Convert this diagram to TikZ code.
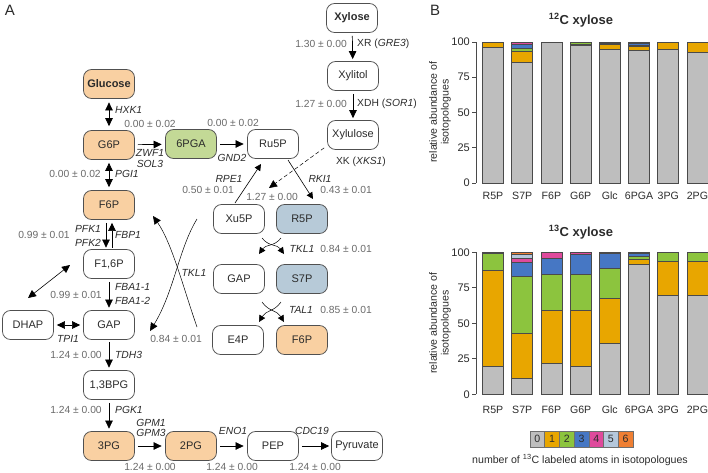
\documentclass[tikz,border=0pt]{standalone}
\usepackage{fontspec}
\setmainfont{Liberation Sans}
\usetikzlibrary{arrows.meta,calc}
\definecolor{orfill}{HTML}{F9D0A2}
\definecolor{grfill}{HTML}{C3D996}
\definecolor{blfill}{HTML}{B7CAD8}
\definecolor{boxdraw}{HTML}{505050}
\definecolor{numc}{HTML}{6A6A6A}
\definecolor{txt}{HTML}{2B2B2B}
\definecolor{c0}{HTML}{BEBEBE}
\definecolor{c1}{HTML}{E8A600}
\definecolor{c2}{HTML}{8CC43E}
\definecolor{c3}{HTML}{4677C4}
\definecolor{c4}{HTML}{DF4A9C}
\definecolor{c5}{HTML}{B5C8DC}
\definecolor{c6}{HTML}{EF7F33}
\definecolor{barline}{HTML}{4A4A4A}
\newcommand\stackbar[4]{%
  \foreach \t [count=\k from 0, remember=\t as \prev (initially 0)] in {#4} {
    \filldraw[fill=c\k, draw=barline, line width=0.6pt] (#1-10.5, #2-#3*\prev) rectangle (#1+10.5, #2-#3*\t);
  }}
\begin{document}
\begin{tikzpicture}[x=1pt,y=-1pt,
  box/.style={draw=boxdraw, line width=0.75pt, rounded corners=8pt, minimum width=51pt, minimum height=29pt, inner sep=0pt, text=txt, font=\fontsize{11}{12}\selectfont},
  boldbox/.style={box, font=\fontsize{11}{12}\selectfont\bfseries},
  num/.style={inner sep=0pt, text=numc, font=\fontsize{10.3}{12}\selectfont},
  gene/.style={inner sep=0pt, text=txt, font=\fontsize{10.3}{12}\selectfont\itshape},
  arr/.style={-{Triangle[length=8pt,width=7.5pt]}, line width=0.7pt},
  darr/.style={{Triangle[length=8pt,width=7.5pt]}-{Triangle[length=8pt,width=7.5pt]}, line width=0.7pt},
  smallarr/.style={-{Triangle[length=6.5pt,width=6.5pt]}, line width=0.5pt},
  curvearr/.style={-{Triangle[length=8pt,width=7.5pt]}, line width=0.5pt},
  panel/.style={inner sep=0pt, text=txt, font=\fontsize{15}{16}\selectfont},
  tick/.style={inner sep=0pt, text=txt, font=\fontsize{11}{12}\selectfont},
  xlab/.style={inner sep=0pt, text=txt, font=\fontsize{10.6}{12}\selectfont},
  ctitle/.style={inner sep=0pt, text=txt, font=\fontsize{13}{14}\selectfont\bfseries},
  axis/.style={draw=barline, line width=1pt},
  legbox/.style={draw=barline!80, line width=0.6pt, minimum width=14.7pt, minimum height=16pt, inner sep=0pt, text=txt, font=\fontsize{10.6}{12}\selectfont},
]
\useasboundingbox (0,0) rectangle (708,472);

% panel letters
\node[panel] (pA) at (10,10) {A};
\node[panel] (pB) at (435,10) {B};

% ---------- metabolite boxes ----------
\node[boldbox, fill=orfill] (glc) at (109,84) {Glucose};
\node[box, fill=orfill] (g6p) at (109,145) {G6P};
\node[box, fill=grfill] (pga) at (191,144) {6PGA};
\node[box] (ru5p) at (273,144) {Ru5P};
\node[boldbox] (xyl) at (352,18) {Xylose};
\node[box] (xol) at (353,76) {Xylitol};
\node[box] (xul) at (353,135) {Xylulose};
\node[box] (xu5p) at (239,219) {Xu5P};
\node[box, fill=blfill] (r5p) at (302,219) {R5P};
\node[box] (gapr) at (239,279) {GAP};
\node[box, fill=blfill] (s7p) at (302,279) {S7P};
\node[box] (e4p) at (238,340) {E4P};
\node[box, fill=orfill] (f6pr) at (302,340) {F6P};
\node[box, fill=orfill] (f6p) at (109,205) {F6P};
\node[box] (f16p) at (109,264) {F1,6P};
\node[box] (dhap) at (28,325) {DHAP};
\node[box] (gap) at (109,325) {GAP};
\node[box] (bpg) at (109,385) {1,3BPG};
\node[box, fill=orfill] (pg3) at (109,446) {3PG};
\node[box, fill=orfill] (pg2) at (191,446) {2PG};
\node[box] (pep) at (273,446) {PEP};
\node[box] (pyr) at (357,446) {Pyruvate};

% ---------- reactions ----------
\draw[darr, shorten <=3.5pt, shorten >=4pt] (glc) -- (g6p);
\node[gene, anchor=west] (hxk) at (115,110) {HXK1};

\draw[arr, shorten <=3pt, shorten >=3.5pt] (g6p) -- (pga);
\node[num] (n1) at (150,124) {0.00 ± 0.02};
\node[gene] (zwf) at (150,153) {ZWF1};
\node[gene] (sol) at (150,163.5) {SOL3};

\draw[arr, shorten <=3pt, shorten >=3.5pt] (pga) -- (ru5p);
\node[num] (n2) at (233,123) {0.00 ± 0.02};
\node[gene] (gnd) at (232,158) {GND2};

\draw[arr, shorten <=3pt, shorten >=2pt] (xyl) -- (xol);
\node[num] (n3) at (321,44) {1.30 ± 0.00};
\node[inner sep=0pt, text=txt, font=\fontsize{10.3}{12}\selectfont, anchor=west] (xr) at (357,44) {XR (\textit{GRE3})};

\draw[arr, shorten <=3pt, shorten >=2pt] (xol) -- (xul);
\node[num] (n4) at (321,104) {1.27 ± 0.00};
\node[inner sep=0pt, text=txt, font=\fontsize{10.3}{12}\selectfont, anchor=west] (xdh) at (357,104) {XDH (\textit{SOR1})};

\coordinate (xkend) at (269,188);
\draw[arr, dashed, dash pattern=on 4pt off 2.5pt, line width=0.5pt] ($(xul.south west)+(-3,-2)$) -- (xkend);
\node[inner sep=0pt, text=txt, font=\fontsize{10.3}{12}\selectfont] (xk) at (361,162) {XK (\textit{XKS1})};
\node[num] (n5) at (272,197) {1.27 ± 0.00};

\coordinate (rkis) at (288,160);
\coordinate (rkie) at (313,199);
\draw[smallarr, line width=0.6pt] (rkis) -- (rkie);
\node[gene] (rki) at (320,179) {RKI1};
\node[num] (n6) at (346,190) {0.43 ± 0.01};

\coordinate (rpes) at (235,203);
\coordinate (rpee) at (261,164);
\draw[smallarr, line width=0.6pt] (rpes) -- (rpee);
\node[gene] (rpe) at (229,179) {RPE1};
\node[num] (n7) at (208,190) {0.50 ± 0.01};

\draw[darr, shorten <=3pt, shorten >=3pt] (g6p) -- (f6p);
\node[num] (n8) at (75,174) {0.00 ± 0.02};
\node[gene, anchor=west] (pgi) at (115,174) {PGI1};

\draw[arr, line width=0.6pt] ($(f6p.south)+(-3,3)$) -- ($(f16p.north)+(-3,-1.5)$);
\draw[arr, line width=0.6pt] ($(f16p.north)+(3,-1.5)$) -- ($(f6p.south)+(3,3)$);
\node[gene] (pfk1) at (88,229) {PFK1};
\node[gene] (pfk2) at (88,243) {PFK2};
\node[gene, anchor=west] (fbp) at (115,235) {FBP1};
\node[num] (n9) at (44,235) {0.99 ± 0.01};

\draw[arr, line width=0.6pt, shorten <=3pt, shorten >=2.5pt] (f16p) -- (gap);
\node[gene, anchor=west] (fba1) at (115,287) {FBA1-1};
\node[gene, anchor=west] (fba2) at (115,301) {FBA1-2};
\node[num] (n10) at (76,295) {0.99 ± 0.01};

\coordinate (dh1) at (28,298);
\coordinate (dh2) at (70,265);
\draw[darr, line width=0.6pt] (dh1) -- (dh2);

\draw[darr, line width=0.6pt, shorten <=3pt, shorten >=3pt] (dhap) -- (gap);
\node[gene] (tpi) at (68,339) {TPI1};

\draw[arr, shorten <=2.5pt, shorten >=2.5pt] (gap) -- (bpg);
\node[num] (n11) at (76,355) {1.24 ± 0.00};
\node[gene, anchor=west] (tdh) at (115,355) {TDH3};

\draw[arr, line width=0.6pt, shorten <=3pt, shorten >=2.5pt] (bpg) -- (pg3);
\node[num] (n12) at (76,410) {1.24 ± 0.00};
\node[gene, anchor=west] (pgk) at (115,410) {PGK1};

\draw[arr, shorten <=3pt, shorten >=3.5pt] (pg3) -- (pg2);
\node[gene] (gpm1) at (151,423) {GPM1};
\node[gene] (gpm3) at (151,433) {GPM3};
\node[num] (n13) at (150,467) {1.24 ± 0.00};

\draw[arr, shorten <=3pt, shorten >=3.5pt] (pg2) -- (pep);
\node[gene] (eno) at (233,431) {ENO1};
\node[num] (n14) at (232,467) {1.24 ± 0.00};

\draw[arr, shorten <=3pt, shorten >=2pt] (pep) -- (pyr);
\node[gene] (cdc) at (312,431) {CDC19};
\node[num] (n15) at (315,467) {1.24 ± 0.00};

% TKL1 large crossing
\coordinate (tka1) at (197,219);
\coordinate (tka2) at (150,331);
\coordinate (tkb1) at (197,327);
\coordinate (tkb2) at (153,216);
\draw[curvearr] (tka1) .. controls (179,248) and (174,292) .. (tka2);
\draw[curvearr] (tkb1) .. controls (184,290) and (172,243) .. (tkb2);
\node[gene] (tkl1a) at (194,273) {TKL1};
\node[num] (n16) at (176,339) {0.84 ± 0.01};

% TKL1 small crossing
\coordinate (tc1) at (262,238);
\coordinate (tc2) at (284,254);
\coordinate (td1) at (281,238);
\coordinate (td2) at (259,254);
\draw[smallarr] (tc1) .. controls (269,247) and (277,244) .. (tc2);
\draw[smallarr] (td1) .. controls (274,247) and (266,244) .. (td2);
\node[gene] (tkl1b) at (302,249) {TKL1};
\node[num] (n17) at (346,249) {0.84 ± 0.01};

% TAL1 small crossing
\coordinate (ta1) at (262,302);
\coordinate (ta2) at (284,322);
\coordinate (tb1) at (281,302);
\coordinate (tb2) at (259,322);
\draw[smallarr] (ta1) .. controls (269,312) and (277,310) .. (ta2);
\draw[smallarr] (tb1) .. controls (274,312) and (266,310) .. (tb2);
\node[gene] (tal) at (301,310) {TAL1};
\node[num] (n18) at (346,310) {0.85 ± 0.01};

% ---------- panel B: 12C chart ----------
\node[ctitle] (t12) at (581,20) {\textsuperscript{12}C xylose};
\draw[axis] (476,183) -- (476,42);
\foreach \v in {0,25,50,75,100} {
  \draw[axis] (472,183-1.41*\v) -- (476,183-1.41*\v);
  \node[tick, anchor=east] (ya\v) at (470,183-1.41*\v) {\v};
}
\node[inner sep=0pt, text=txt, font=\fontsize{10.6}{12}\selectfont, rotate=90] (yl1a) at (433,112) {relative abundance of};
\node[inner sep=0pt, text=txt, font=\fontsize{10.6}{12}\selectfont, rotate=90] (yl1b) at (446,112) {isotopologues};
\stackbar{493}{183}{1.41}{96,100}
\stackbar{522.2}{183}{1.41}{85.5,93.5,95.3,98.3,100}
\stackbar{551.4}{183}{1.41}{100}
\stackbar{580.6}{183}{1.41}{98,98.2,99.5,100}
\stackbar{609.8}{183}{1.41}{95,98.5,99,100}
\stackbar{639}{183}{1.41}{94,97,97.5,99.3,100}
\stackbar{668.2}{183}{1.41}{94.8,99.6,100}
\stackbar{697.4}{183}{1.41}{93,99.5,100}
\foreach \m [count=\i from 0] in {R5P,S7P,F6P,G6P,Glc,6PGA,3PG,2PG} {
  \node[xlab] (xa\i) at (493+29.2*\i,195.5) {\m};
}

% ---------- panel B: 13C chart ----------
\node[ctitle] (t13) at (581,232) {\textsuperscript{13}C xylose};
\draw[axis] (476,394.3) -- (476,252.3);
\foreach \v in {0,25,50,75,100} {
  \draw[axis] (472,394.3-1.42*\v) -- (476,394.3-1.42*\v);
  \node[tick, anchor=east] (yb\v) at (470,394.3-1.42*\v) {\v};
}
\node[inner sep=0pt, text=txt, font=\fontsize{10.6}{12}\selectfont, rotate=90] (yl2a) at (433,323) {relative abundance of};
\node[inner sep=0pt, text=txt, font=\fontsize{10.6}{12}\selectfont, rotate=90] (yl2b) at (446,323) {isotopologues};
\stackbar{493}{394.3}{1.42}{19.5,87,99.2,99.8,100}
\stackbar{522.2}{394.3}{1.42}{11,43,83,93,95.8,98.6,100}
\stackbar{551.4}{394.3}{1.42}{21.5,59,84.5,96,100}
\stackbar{580.6}{394.3}{1.42}{19.5,59,84.5,98.5,100}
\stackbar{609.8}{394.3}{1.42}{36,67.5,88.7,99.3,100}
\stackbar{639}{394.3}{1.42}{91.5,95.3,97,99.3,100}
\stackbar{668.2}{394.3}{1.42}{69.5,93.4,100}
\stackbar{697.4}{394.3}{1.42}{69.5,94,100}
\foreach \m [count=\i from 0] in {R5P,S7P,F6P,G6P,Glc,6PGA,3PG,2PG} {
  \node[xlab] (xb\i) at (493+29.2*\i,410) {\m};
}

% legend
\foreach \k in {0,...,6} {
  \node[legbox, fill=c\k] (lg\k) at (537.4+14.7*\k,439) {\k};
}
\node[inner sep=0pt, text=txt, font=\fontsize{10.6}{12}\selectfont] (legt) at (580,460) {number of \textsuperscript{13}C labeled atoms in isotopologues};
\end{tikzpicture}
\end{document}
